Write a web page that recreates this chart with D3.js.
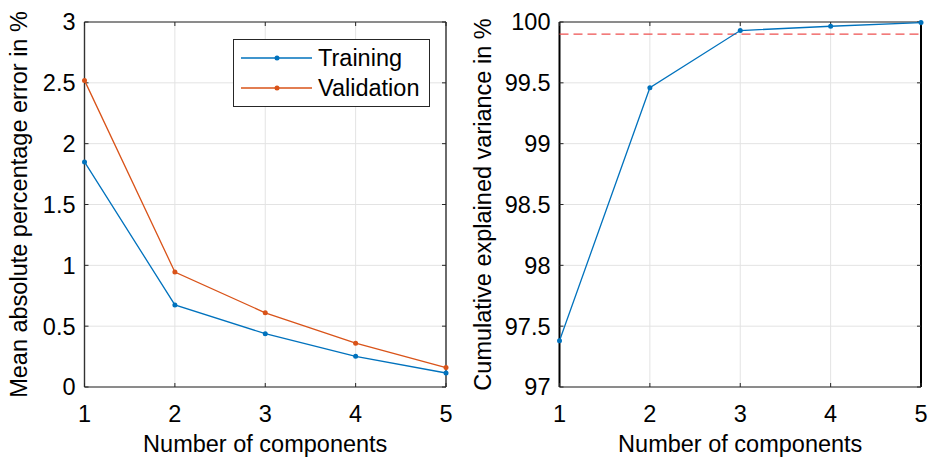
<!DOCTYPE html>
<html>
<head>
<meta charset="utf-8">
<script src="https://cdn.jsdelivr.net/npm/d3@7.9.0/dist/d3.min.js"></script>
<style>
  body { margin: 0; background: #fff; }
  text { font-family: "Liberation Sans", Arial, sans-serif; fill: #000; }
</style>
</head>
<body>
<svg id="chart" width="928" height="459"></svg>
<script>
// data
const components = [1, 2, 3, 4, 5];
const training = [1.85, 0.675, 0.438, 0.252, 0.115];
const validation = [2.52, 0.945, 0.61, 0.36, 0.16];
const explained = [97.38, 99.46, 99.93, 99.965, 99.995];
const threshold = 99.9;
const leftTicks = [0, 0.5, 1, 1.5, 2, 2.5, 3];
const rightTicks = [97, 97.5, 98, 98.5, 99, 99.5, 100];

const blue = "#0072BD", orange = "#D95319";
const fs = 23.5;
const svg = d3.select("#chart");

function panel(x0, x1, yDomain, yTicks, ylabel, labelX, sideColor, sideW) {
  const top = 22, bottom = 387;
  const x = d3.scaleLinear().domain([1, 5]).range([x0, x1]);
  const y = d3.scaleLinear().domain(yDomain).range([bottom, top]);
  const g = svg.append("g");

  // grid
  g.selectAll(".gx").data(components).join("line")
    .attr("x1", d => x(d)).attr("x2", d => x(d))
    .attr("y1", top).attr("y2", bottom)
    .attr("stroke", "#e3e3e3").attr("stroke-width", 1);
  g.selectAll(".gy").data(yTicks).join("line")
    .attr("x1", x0).attr("x2", x1)
    .attr("y1", d => y(d)).attr("y2", d => y(d))
    .attr("stroke", "#e3e3e3").attr("stroke-width", 1);

  // box
  g.append("line").attr("x1", x0).attr("x2", x1).attr("y1", top).attr("y2", top).attr("stroke", "#262626");
  g.append("line").attr("x1", x0).attr("x2", x1).attr("y1", bottom).attr("y2", bottom).attr("stroke", "#262626");
  [x0, x1].forEach(xx => g.append("line").attr("x1", xx).attr("x2", xx).attr("y1", top).attr("y2", bottom)
    .attr("stroke", sideColor).attr("stroke-width", sideW));

  // inward ticks
  const tl = 4;
  components.forEach(d => {
    g.append("line").attr("x1", x(d)).attr("x2", x(d)).attr("y1", bottom).attr("y2", bottom - tl).attr("stroke", "#262626");
    g.append("line").attr("x1", x(d)).attr("x2", x(d)).attr("y1", top).attr("y2", top + tl).attr("stroke", "#262626");
  });
  yTicks.forEach(d => {
    g.append("line").attr("x1", x0).attr("x2", x0 + tl).attr("y1", y(d)).attr("y2", y(d)).attr("stroke", "#262626");
    g.append("line").attr("x1", x1).attr("x2", x1 - tl).attr("y1", y(d)).attr("y2", y(d)).attr("stroke", "#262626");
  });

  // tick labels
  g.selectAll(".xl").data(components).join("text")
    .attr("x", d => x(d)).attr("y", 421.5)
    .attr("text-anchor", "middle").attr("font-size", fs)
    .text(d => d);
  g.selectAll(".yl").data(yTicks).join("text")
    .attr("x", x0 - 9).attr("y", d => y(d) + 8.4)
    .attr("text-anchor", "end").attr("font-size", fs)
    .text(d => d);

  // axis labels
  g.append("text").attr("x", (x0 + x1) / 2).attr("y", 452)
    .attr("text-anchor", "middle").attr("font-size", fs)
    .text("Number of components");
  g.append("text")
    .attr("transform", `translate(${labelX},${(top + bottom) / 2}) rotate(-90)`)
    .attr("text-anchor", "middle").attr("font-size", fs)
    .text(ylabel);

  return { g, x, y };
}

// left panel
const L = panel(84.5, 446, [0, 3], leftTicks, "Mean absolute percentage error in %", 27, "#333", 1.4);
const lineL = d3.line().x((d, i) => L.x(components[i])).y(d => L.y(d));
[[validation, orange], [training, blue]].forEach(([s, c]) => {
  L.g.append("path").attr("d", lineL(s)).attr("fill", "none").attr("stroke", c).attr("stroke-width", 1.3);
  L.g.selectAll(null).data(s).join("circle")
    .attr("cx", (d, i) => L.x(components[i])).attr("cy", d => L.y(d))
    .attr("r", 2.5).attr("fill", c);
});

// legend
const lg = L.g.append("g");
lg.append("rect").attr("x", 233.5).attr("y", 39.5).attr("width", 196).attr("height", 67)
  .attr("fill", "#fff").attr("stroke", "#262626").attr("stroke-width", 1);
[["Training", blue, 58], ["Validation", orange, 88]].forEach(([t, c, yy]) => {
  lg.append("line").attr("x1", 241).attr("x2", 312).attr("y1", yy).attr("y2", yy).attr("stroke", c).attr("stroke-width", 1.3);
  lg.append("circle").attr("cx", 277).attr("cy", yy).attr("r", 2.5).attr("fill", c);
  lg.append("text").attr("x", 318).attr("y", yy + 8.4).attr("font-size", fs).text(t);
});

// right panel
const R = panel(559.5, 921, [97, 100], rightTicks, "Cumulative explained variance in %", 491, "#000", 2);
R.g.append("line").attr("x1", R.x(1)).attr("x2", R.x(5))
  .attr("y1", R.y(threshold)).attr("y2", R.y(threshold))
  .attr("stroke", "#ee5050").attr("stroke-width", 1.2).attr("stroke-dasharray", "9,5");
const lineR = d3.line().x((d, i) => R.x(components[i])).y(d => R.y(d));
R.g.append("path").attr("d", lineR(explained)).attr("fill", "none").attr("stroke", blue).attr("stroke-width", 1.3);
R.g.selectAll(null).data(explained).join("circle")
  .attr("cx", (d, i) => R.x(components[i])).attr("cy", d => R.y(d))
  .attr("r", 2.5).attr("fill", blue);
</script>
</body>
</html>
